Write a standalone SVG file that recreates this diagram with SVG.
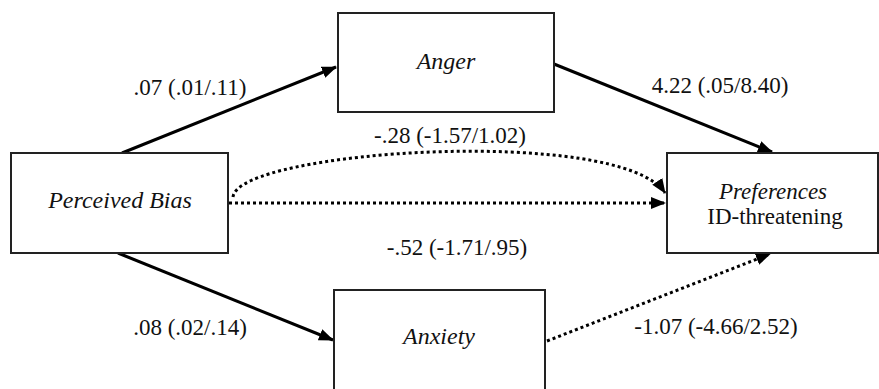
<svg xmlns="http://www.w3.org/2000/svg" width="879" height="389" viewBox="0 0 879 389">
<style>
.box{fill:#fff;stroke:#222;stroke-width:2}
.t{font-family:'Liberation Serif','Times New Roman',serif;font-size:23px;fill:#111;text-anchor:middle}
.i{font-style:italic;font-size:24px}
.solid{fill:none;stroke:#000;stroke-width:3}
.dot{fill:none;stroke:#000;stroke-width:3;stroke-dasharray:3 3}
</style>
<defs>
<marker id="ah" markerUnits="userSpaceOnUse" markerWidth="16" markerHeight="14" refX="14" refY="6" orient="auto" viewBox="0 0 16 12">
<path d="M0,0 L15,6 L0,12 Z" fill="#000"/>
</marker>
</defs>
<rect width="879" height="389" fill="#fff"/>
<g id="connectors">
<line class="solid" x1="122" y1="153" x2="336" y2="67" marker-end="url(#ah)"/>
<line class="solid" x1="554" y1="64" x2="772" y2="152" marker-end="url(#ah)"/>
<line class="solid" x1="118" y1="253" x2="333" y2="340" marker-end="url(#ah)"/>
<line class="dot" x1="547" y1="341" x2="770" y2="254" marker-end="url(#ah)"/>
<line class="dot" x1="229" y1="203" x2="665" y2="203" marker-end="url(#ah)"/>
<path class="dot" d="M233,197 C238,150 620,125 665,193" marker-end="url(#ah)"/>
</g>
<g id="labels">
<text class="t" x="190" y="95">.07 (.01/.11)</text>
<text class="t" x="720" y="93">4.22 (.05/8.40)</text>
<text class="t" x="450" y="143">-.28 (-1.57/1.02)</text>
<text class="t" x="457" y="255">-.52 (-1.71/.95)</text>
<text class="t" x="190" y="335">.08 (.02/.14)</text>
<text class="t" x="716" y="334">-1.07 (-4.66/2.52)</text>
</g>
<g id="node-bias">
<rect class="box" x="11" y="153" width="217" height="100"/>
<text class="t i" x="120" y="208">Perceived Bias</text>
</g>
<g id="node-anger">
<rect class="box" x="338" y="13" width="216" height="99"/>
<text class="t i" x="446" y="69">Anger</text>
</g>
<g id="node-anxiety">
<rect class="box" x="334" y="290" width="211" height="110"/>
<text class="t i" x="439" y="344">Anxiety</text>
</g>
<g id="node-preferences">
<rect class="box" x="667" y="153" width="211" height="100"/>
<text class="t" x="773" y="199" style="font-style:italic;font-size:23px">Preferences</text>
<text class="t" x="775" y="224" style="font-size:23px">ID-threatening</text>
</g>
</svg>
